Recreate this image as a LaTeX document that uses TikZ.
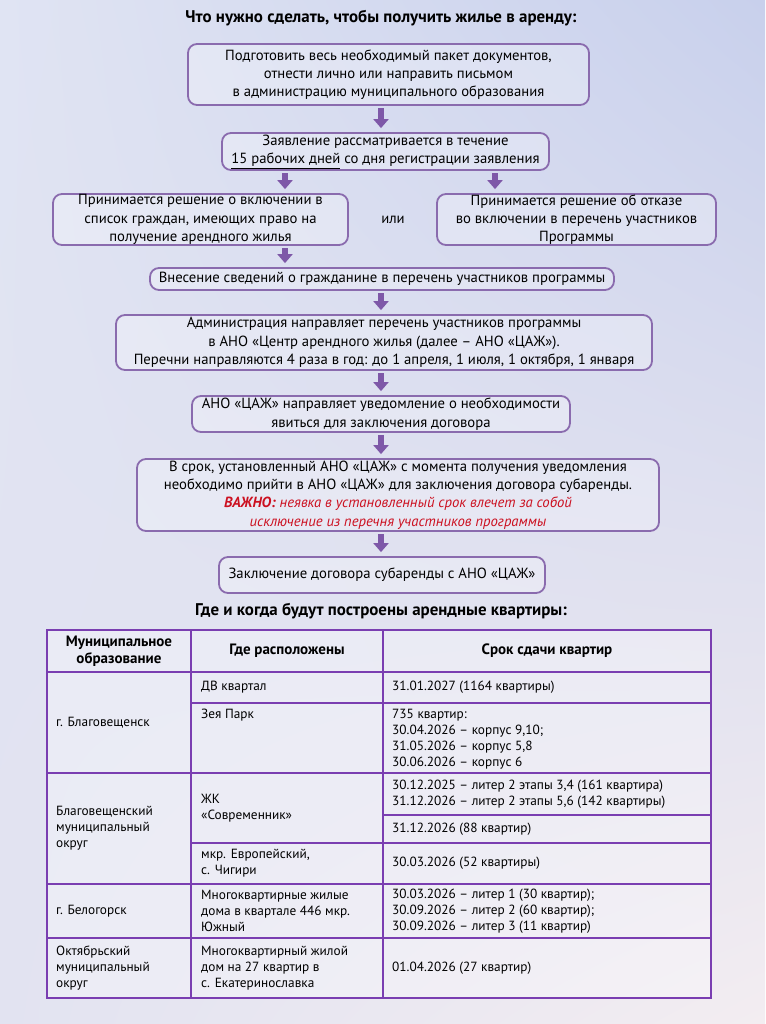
\documentclass[tikz,border=0pt]{standalone}
\usepackage{fontspec}
\setmainfont{PT Sans}
\usetikzlibrary{arrows.meta,calc,shadings}
\definecolor{boxline}{HTML}{8A6BAE}
\definecolor{arrowc}{HTML}{7E58A8}
\definecolor{tabline}{HTML}{7A3EB1}
\definecolor{redtxt}{HTML}{CC1020}
\definecolor{bgUL}{HTML}{E0E4F3}
\definecolor{bgUR}{HTML}{C8D0EC}
\definecolor{bgLL}{HTML}{E2E3F1}
\definecolor{bgLR}{HTML}{F3EDF1}
\begin{document}
\begin{tikzpicture}[x=1pt,y=-1pt,
  flow/.style={draw=boxline, line width=1.8pt, rounded corners=9pt, fill=white, fill opacity=0.25, text opacity=1, align=center, font=\fontsize{14.7}{18.3}\selectfont, inner sep=0pt},
  blk/.style={draw=arrowc, line width=6pt, -{Triangle[width=15pt,length=9pt]}, shorten <=2.5pt, shorten >=4pt},
  ttl/.style={font=\fontsize{16.9}{19}\selectfont\bfseries, inner sep=0pt},
  cell/.style={font=\fontsize{13.3}{16}\selectfont, align=left, inner sep=0pt, anchor=west},
  hcell/.style={font=\fontsize{15}{16.5}\selectfont\bfseries, align=center, inner sep=0pt},
  tline/.style={draw=tabline, line width=1.8pt},
  touter/.style={draw=tabline, line width=2.6pt}]
\useasboundingbox (0,0) rectangle (765,1024);
\shade[upper left=bgUL, upper right=bgUR, lower left=bgLL, lower right=bgLR] (0,0) rectangle (765,1024);

\node[ttl] (t1) at (381,18) {Что нужно сделать, чтобы получить жилье в аренду:};

\node[flow, minimum width=401pt, minimum height=61pt] (b1) at (388.5,74.5) {Подготовить весь необходимый пакет документов,\\ отнести лично или направить письмом\\ в администрацию муниципального образования};
\node[flow, minimum width=327pt, minimum height=37pt] (b2) at (385.5,151.5) {Заявление рассматривается в течение\\ \underline{15 рабочих дней} со дня регистрации заявления};
\node[flow, minimum width=295pt, minimum height=51pt] (bl) at (200.5,219.5) {Принимается решение о включении в\\ список граждан, имеющих право на\\ получение арендного жилья};
\node[font=\fontsize{14.7}{18}\selectfont, inner sep=0pt] (or) at (393,220) {или};
\node[flow, minimum width=279pt, minimum height=51pt] (br) at (576.5,219.5) {Принимается решение об отказе\\ во включении в перечень участников\\ Программы};
\node[flow, minimum width=464pt, minimum height=22pt] (b4) at (382,279) {Внесение сведений о гражданине в перечень участников программы};
\node[flow, minimum width=536pt, minimum height=55pt] (b5) at (384,342.5) {Администрация направляет перечень участников программы\\ в АНО «Центр арендного жилья (далее – АНО «ЦАЖ»).\\ Перечни направляются 4 раза в год: до 1 апреля, 1 июля, 1 октября, 1 января};
\node[flow, minimum width=378pt, minimum height=36pt] (b6) at (381,414) {АНО «ЦАЖ» направляет уведомление о необходимости\\ явиться для заключения договора};
\node[flow, minimum width=522pt, minimum height=72pt] (b7) at (398,495) {В срок, установленный АНО «ЦАЖ» с момента получения уведомления\\ необходимо прийти в АНО «ЦАЖ» для заключения договора субаренды.\\ {\color{redtxt}\bfseries\itshape ВАЖНО:} {\color{redtxt}\itshape неявка в установленный срок влечет за собой}\\ {\color{redtxt}\itshape исключение из перечня участников программы}};
\node[flow, minimum width=326pt, minimum height=36pt] (b8) at (382,575) {Заключение договора субаренды с АНО «ЦАЖ»};

\coordinate (xc) at (381,0);
\coordinate (xl) at (285,0);
\coordinate (xr) at (495,0);
\draw[blk] (b1.south -| xc) -- (b2.north -| xc);
\draw[blk] (b2.south -| xl) -- (bl.north -| xl);
\draw[blk] (b2.south -| xr) -- (br.north -| xr);
\draw[blk] (bl.south -| xl) -- (b4.north -| xl);
\draw[blk] (b4.south -| xc) -- (b5.north -| xc);
\draw[blk] (b5.south -| xc) -- (b6.north -| xc);
\draw[blk] (b6.south -| xc) -- (b7.north -| xc);
\draw[blk] (b7.south -| xc) -- (b8.north -| xc);

\node[ttl] (t2) at (381,611) {Где и когда будут построены арендные квартиры:};

% table
\fill[white, opacity=0.3] (47,630) rectangle (711,998);
\draw[tline] (191,630) -- (191,998);
\draw[tline] (383,630) -- (383,998);
\draw[tline] (47,672) -- (711,672);
\draw[tline] (191,703) -- (711,703);
\draw[tline] (47,773) -- (711,773);
\draw[tline] (383,815) -- (711,815);
\draw[tline] (191,843) -- (711,843);
\draw[tline] (47,884) -- (711,884);
\draw[tline] (47,938) -- (711,938);
\draw[touter] (47,630) rectangle (711,998);

\node[hcell] (h1) at (119,651) {Муниципальное\\образование};
\node[hcell] (h2) at (287,651) {Где расположены};
\node[hcell] (h3) at (547,651) {Срок сдачи квартир};

\node[cell] (c11) at (56,722.5) {г. Благовещенск};
\node[cell] (c12) at (201,687.5) {ДВ квартал};
\node[cell] (c13) at (392,687.5) {31.01.2027 (1164 квартиры)};
\node[cell, anchor=north west] (c22) at (201,709) {Зея Парк};
\node[cell, anchor=north west] (c23) at (392,709) {735 квартир:\\30.04.2026 – корпус 9,10;\\31.05.2026 – корпус 5,8\\30.06.2026 – корпус 6};

\node[cell] (c31) at (56,828.5) {Благовещенский\\муниципальный\\округ};
\node[cell] (c32) at (201,808) {ЖК\\«Современник»};
\node[cell] (c33) at (392,794) {30.12.2025 – литер 2 этапы 3,4 (161 квартира)\\31.12.2026 – литер 2 этапы 5,6 (142 квартиры)};
\node[cell] (c43) at (392,829) {31.12.2026 (88 квартир)};
\node[cell] (c52) at (201,863.5) {мкр. Европейский,\\с. Чигири};
\node[cell] (c53) at (392,863.5) {30.03.2026 (52 квартиры)};

\node[cell] (c61) at (56,911) {г. Белогорск};
\node[cell] (c62) at (201,911) {Многоквартирные жилые\\дома в квартале 446 мкр.\\Южный};
\node[cell] (c63) at (392,911) {30.03.2026 – литер 1 (30 квартир);\\30.09.2026 – литер 2 (60 квартир);\\30.09.2026 – литер 3 (11 квартир)};

\node[cell] (c71) at (56,968) {Октябрьский\\муниципальный\\округ};
\node[cell] (c72) at (201,968) {Многоквартирный жилой\\дом на 27 квартир в\\с. Екатеринославка};
\node[cell] (c73) at (392,968) {01.04.2026 (27 квартир)};
\end{tikzpicture}
\end{document}
